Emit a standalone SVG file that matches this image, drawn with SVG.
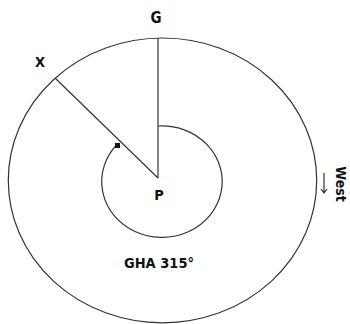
<svg xmlns="http://www.w3.org/2000/svg" width="350" height="324" viewBox="0 0 350 324">
<style>
.ln{fill:none;stroke:#333;stroke-width:1.2}
.lb{font-family:"DejaVu Sans Condensed","DejaVu Sans",Verdana,sans-serif;font-weight:bold;fill:#111}
</style>
<rect width="350" height="324" fill="#fff"/>
<g id="outer"><ellipse class="ln" cx="162.5" cy="180.4" rx="154.2" ry="142.4"/></g>
<g id="connectors">
<line class="ln" x1="158" y1="38" x2="158" y2="178"/>
<line class="ln" x1="55" y1="78" x2="158" y2="178"/>
<path class="ln" d="M158 126 A60.25 55.75 0 1 1 117 144.5"/>
<rect x="115" y="143" width="5" height="5" fill="#111"/>
<path class="ln" d="M324 173 V193 M321 189 L324 193 L327 189"/>
</g>
<g id="G"><text class="lb" x="156" y="23" font-size="15" text-anchor="middle">G</text></g>
<g id="X"><text class="lb" x="40" y="66.5" font-size="14.5" text-anchor="middle">X</text></g>
<g id="P"><text class="lb" x="159" y="200" font-size="14.5" text-anchor="middle">P</text></g>
<g id="GHA"><text class="lb" x="159" y="268" font-size="14.5" text-anchor="middle">GHA 315°</text></g>
<g id="West"><text class="lb" transform="translate(336,184) rotate(90)" font-size="14" text-anchor="middle">West</text></g>
</svg>
